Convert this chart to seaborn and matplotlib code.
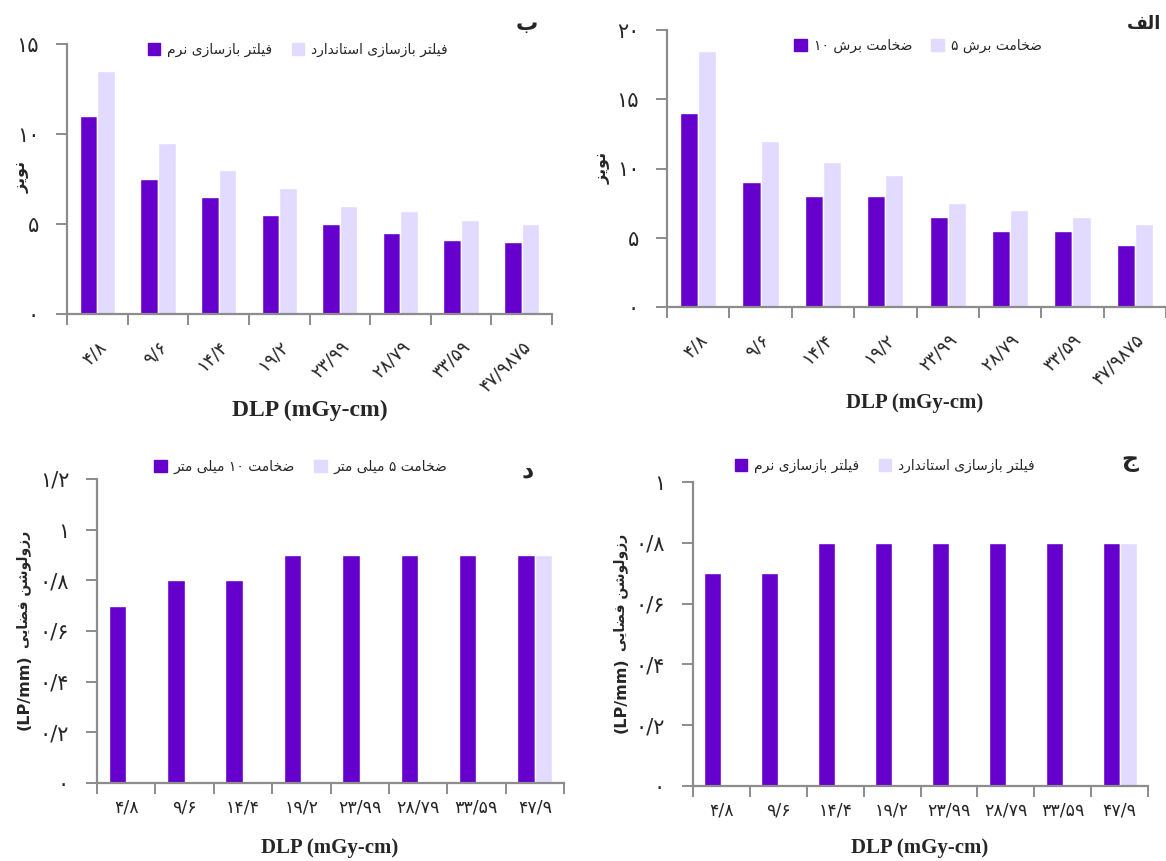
import re
import numpy as np
import pandas as pd
import matplotlib
matplotlib.use('Agg')
import matplotlib.pyplot as plt
from matplotlib.patches import Patch
import seaborn as sns

sns.set_style('white')
plt.rcParams['font.family'] = ['DejaVu Sans']

# ---- data ----
dlp_rot = ['۴/۸', '۹/۶', '۱۴/۴', '۱۹/۲', '۲۳/۹۹', '۲۸/۷۹', '۳۳/۵۹', '۴۷/۹۸۷۵']
dlp_flat = ['۴/۸', '۹/۶', '۱۴/۴', '۱۹/۲', '۲۳/۹۹', '۲۸/۷۹', '۳۳/۵۹', '۴۷/۹']

noise_slice10 = [14, 9, 8, 8, 6.5, 5.5, 5.5, 4.5]
noise_slice5 = [18.5, 12, 10.5, 9.5, 7.5, 7, 6.5, 6]
noise_soft = [11, 7.5, 6.5, 5.5, 5, 4.5, 4.1, 4]
noise_standard = [13.5, 9.5, 8, 7, 6, 5.75, 5.2, 5]
res_soft = [0.7, 0.7, 0.8, 0.8, 0.8, 0.8, 0.8, 0.8]
res_standard = [np.nan, np.nan, np.nan, np.nan, np.nan, np.nan, np.nan, 0.8]
res_slice10 = [0.7, 0.8, 0.8, 0.9, 0.9, 0.9, 0.9, 0.9]
res_slice5 = [np.nan, np.nan, np.nan, np.nan, np.nan, np.nan, np.nan, 0.9]

names_slice = ['ضخامت برش ۱۰', 'ضخامت برش ۵']
names_filter = ['فیلتر بازسازی نرم', 'فیلتر بازسازی استاندارد']
names_mm = ['ضخامت ۱۰ میلی متر', 'ضخامت ۵ میلی متر']

yt_20 = ['۰', '۵', '۱۰', '۱۵', '۲۰']
yt_15 = ['۰', '۵', '۱۰', '۱۵']
yt_12 = ['۰', '۰/۲', '۰/۴', '۰/۶', '۰/۸', '۱', '۱/۲']
yt_10 = ['۰', '۰/۲', '۰/۴', '۰/۶', '۰/۸', '۱']

DARK = '#6600CC'
LIGHT = '#E2DAFF'
GRAY = '#8C8C8C'
W, H = 1166, 861

# ---- minimal persian shaping (matplotlib has no text shaping) ----
FORMS = {  # isolated, final, initial, medial
    '\u0627': (0xFE8D, 0xFE8E, None, None),
    '\u0628': (0xFE8F, 0xFE90, 0xFE91, 0xFE92),
    '\u062A': (0xFE95, 0xFE96, 0xFE97, 0xFE98),
    '\u062C': (0xFE9D, 0xFE9E, 0xFE9F, 0xFEA0),
    '\u062E': (0xFEA5, 0xFEA6, 0xFEA7, 0xFEA8),
    '\u062F': (0xFEA9, 0xFEAA, None, None),
    '\u0631': (0xFEAD, 0xFEAE, None, None),
    '\u0632': (0xFEAF, 0xFEB0, None, None),
    '\u0633': (0xFEB1, 0xFEB2, 0xFEB3, 0xFEB4),
    '\u0634': (0xFEB5, 0xFEB6, 0xFEB7, 0xFEB8),
    '\u0636': (0xFEBD, 0xFEBE, 0xFEBF, 0xFEC0),
    '\u0641': (0xFED1, 0xFED2, 0xFED3, 0xFED4),
    '\u0644': (0xFEDD, 0xFEDE, 0xFEDF, 0xFEE0),
    '\u0645': (0xFEE1, 0xFEE2, 0xFEE3, 0xFEE4),
    '\u0646': (0xFEE5, 0xFEE6, 0xFEE7, 0xFEE8),
    '\u0648': (0xFEED, 0xFEEE, None, None),
    '\u06CC': (0xFEEF, 0xFEF0, 0xFEF3, 0xFEF4),
}
LTR = r'[A-Za-z0-9\u06F0-\u06F9()/\-]'


def shape(text):
    out = []
    for i, ch in enumerate(text):
        if ch not in FORMS:
            out.append(ch)
            continue
        prv = text[i - 1] if i > 0 else ''
        nxt = text[i + 1] if i + 1 < len(text) else ''
        joins_prev = prv in FORMS and FORMS[prv][2] is not None
        dual = FORMS[ch][2] is not None
        joins_next = dual and nxt in FORMS
        f = FORMS[ch]
        if joins_prev and joins_next:
            code = f[3]
        elif joins_prev:
            code = f[1]
        elif joins_next:
            code = f[2]
        else:
            code = f[0]
        out.append(chr(code))
    return ''.join(out)


def fa(text):
    s = shape(text)
    parts = re.findall(LTR + '+|(?:(?!' + LTR + ').)+', s)
    res = []
    for p in reversed(parts):
        res.append(p if re.match(LTR, p) else p[::-1])
    return ''.join(res)


def rect(left, right, top, bottom):
    return [left / W, 1 - bottom / H, (right - left) / W, (bottom - top) / H]


def fx(x, y):
    return x / W, 1 - y / H


def panel(fig, box, cats, a, b, names, ymax, ystep, yticks, rotate, width,
          title, title_xy, title_size, xlab_xy, xlab_size, leg_xy):
    ax = fig.add_axes(rect(*box))
    df = pd.DataFrame({
        'dlp': cats * 2,
        'value': a + b,
        'series': [names[0]] * len(cats) + [names[1]] * len(cats),
    })
    sns.barplot(data=df, x='dlp', y='value', hue='series', order=cats,
                hue_order=names, palette=[DARK, LIGHT], width=width,
                errorbar=None, legend=False, saturation=1, ax=ax)
    ax.set_xlabel('')
    ax.set_ylabel('')
    ax.set_xlim(-0.5, len(cats) - 0.5)
    ax.set_ylim(0, ymax)
    ax.set_xticks(np.arange(-0.5, len(cats)), labels=[''] * (len(cats) + 1))
    ax.set_xticks(range(len(cats)), labels=cats, minor=True)
    ax.set_yticks(np.arange(0, ymax + ystep / 2, ystep), labels=yticks)
    for s in ['top', 'right']:
        ax.spines[s].set_visible(False)
    for s in ['left', 'bottom']:
        ax.spines[s].set_color(GRAY)
        ax.spines[s].set_linewidth(1.6)
    ax.tick_params(axis='x', which='major', bottom=True, length=8, width=1.4,
                   color=GRAY, direction='out')
    ax.tick_params(axis='y', left=True, length=8, width=1.4, color=GRAY,
                   direction='out', pad=12, labelsize=15)
    if rotate:
        ax.tick_params(axis='x', which='minor', bottom=True, length=0, pad=17,
                       labelsize=13)
        plt.setp(ax.get_xticklabels(minor=True), rotation=45, ha='right',
                 rotation_mode='anchor')
    else:
        ax.tick_params(axis='x', which='minor', bottom=True, length=0, pad=11,
                       labelsize=12.5)
    handles = [Patch(color=DARK), Patch(color=LIGHT)]
    ax.legend(handles, [fa(n) for n in names], loc='center',
              bbox_to_anchor=fx(*leg_xy), bbox_transform=fig.transFigure,
              ncol=2, frameon=False, handlelength=0.9, handleheight=0.9,
              handletextpad=0.5, columnspacing=1.4, fontsize=10)
    fig.text(*fx(*title_xy), fa(title), ha='center', va='baseline',
             fontsize=title_size, fontweight='bold')
    fig.text(*fx(*xlab_xy), 'DLP (mGy-cm)', ha='center', va='center',
             fontsize=xlab_size, fontweight='bold', family='Liberation Serif')
    return ax


def noise_label(fig, x, y):
    fig.text(*fx(x, y), fa('نویز'), ha='center', va='center', rotation=90,
             fontsize=11.5, fontweight='bold')


def res_label(fig, x, y_bottom):
    # persian part and unit drawn apart so each gets its own size
    fig.text(*fx(x, y_bottom), '(LP/mm)', ha='center', va='bottom',
             rotation=90, fontsize=11.5, fontweight='bold')
    fig.text(*fx(x, y_bottom - 82), fa('رزولوشن فضایی'), ha='center',
             va='bottom', rotation=90, fontsize=10, fontweight='bold')


fig = plt.figure(figsize=(W / 100, H / 100), dpi=100)

# الف : noise vs slice thickness
panel(fig, (667, 1166, 30, 307), dlp_rot, noise_slice10, noise_slice5,
      names_slice, 20, 5, yt_20, True, 0.58,
      'الف', (1144, 29), 13, (915, 403), 15, (918, 46))
noise_label(fig, 603, 168)

# ب : noise vs reconstruction filter
panel(fig, (67, 552, 44, 314), dlp_rot, noise_soft, noise_standard,
      names_filter, 15, 5, yt_15, True, 0.58,
      'ب', (527, 30), 16, (310, 410), 17, (298, 50))
noise_label(fig, 22, 177)

# ج : resolution vs reconstruction filter
panel(fig, (693, 1148, 482, 786), dlp_flat, res_soft, res_standard,
      names_filter, 1.0, 0.2, yt_10, False, 0.6,
      'ج', (1130, 466), 17, (920, 848), 15, (885, 466))
res_label(fig, 621, 733)

# د : resolution vs slice thickness
panel(fig, (97, 564, 479, 783), dlp_flat, res_slice10, res_slice5,
      names_mm, 1.2, 0.2, yt_12, False, 0.6,
      'د', (528, 477), 17, (330, 848), 15, (301, 467))
res_label(fig, 24, 730)

fig.savefig('out.png', dpi=100)
